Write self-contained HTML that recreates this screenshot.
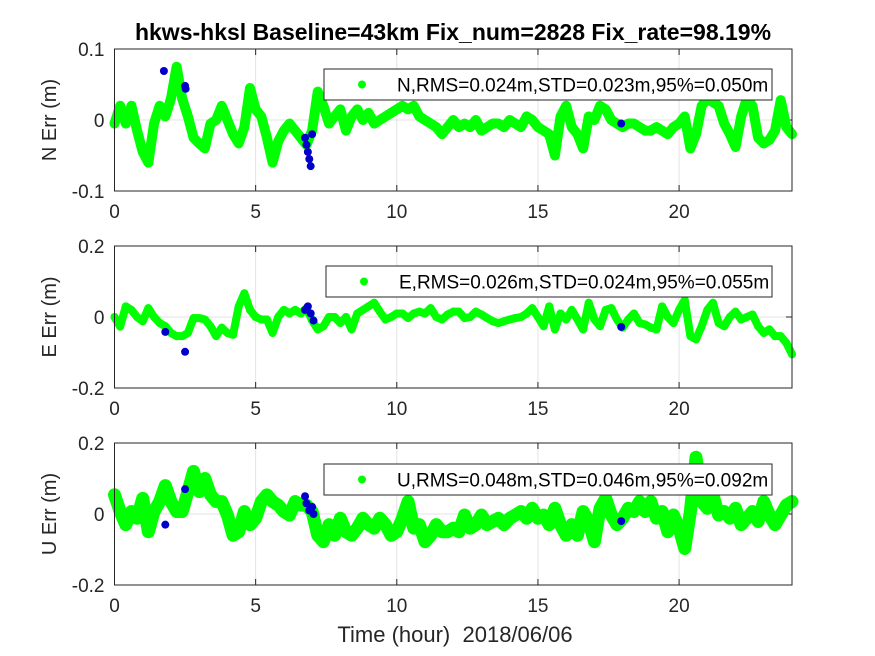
<!DOCTYPE html>
<html><head><meta charset="utf-8"><style>
body{margin:0;background:#fff}
svg{display:block;font-family:"Liberation Sans",Arial,sans-serif}
</style></head><body>
<svg id="fig" width="875" height="656" xmlns="http://www.w3.org/2000/svg">
<rect width="875" height="656" fill="#fff"/>
<text x="453" y="40" text-anchor="middle" font-size="23" font-weight="bold" fill="#000">hkws-hksl Baseline=43km Fix_num=2828 Fix_rate=98.19%</text>
<text x="455" y="642" text-anchor="middle" font-size="22" fill="#262626">Time (hour)&#160; 2018/06/06</text>
</svg>
<script>
const hourStep = 0.2;
const nVals = [-0.005,0.02,-0.005,0.02,-0.015,-0.045,-0.06,-0.005,0.02,0.005,0.03,0.075,0.03,0.005,-0.025,-0.033,-0.04,-0.005,0,0.02,0,-0.02,-0.033,-0.01,0.045,0.015,0.005,-0.025,-0.06,-0.03,-0.015,-0.005,-0.015,-0.025,-0.035,-0.015,0.04,0.02,-0.005,0.005,0.015,-0.015,0.005,0.015,0,0.01,-0.005,0,0.005,0.01,0.015,0.02,0.015,0.02,0.005,0,-0.005,-0.01,-0.02,-0.01,0,
-0.01,-0.005,-0.01,0,-0.015,-0.01,-0.005,-0.005,-0.01,0,-0.005,-0.01,0.005,0,-0.01,-0.015,-0.02,-0.05,0.005,0.02,-0.01,-0.02,-0.04,0.005,0,0.02,0.015,0,-0.005,-0.01,-0.005,-0.005,-0.01,-0.015,-0.015,-0.01,-0.015,-0.02,-0.01,-0.005,0.005,-0.04,-0.02,0.02,0.03,0.025,0.02,-0.005,-0.02,-0.038,0.005,0.03,0.02,-0.025,-0.033,-0.028,-0.015,0.028,-0.01,-0.02];
const eVals = [0,-0.027,0.03,0.02,0,-0.012,0.025,0,-0.017,-0.026,-0.045,-0.054,-0.054,-0.045,-0.003,-0.003,-0.007,-0.026,-0.054,-0.03,-0.045,-0.05,0.03,0.067,0.02,0,-0.007,-0.007,-0.045,0,0.02,0.01,0.02,0.01,0.025,-0.01,-0.035,-0.026,0,0,-0.017,0,-0.035,0.01,0.02,0.03,0.04,0.015,-0.007,0,0.01,0.01,-0.003,0.01,0.015,0.01,0.025,0,-0.007,0.007,0.015,
0.015,-0.003,0,0.015,0.007,-0.003,-0.012,-0.017,-0.012,-0.007,-0.003,0,0.01,0.025,0,-0.026,0.03,-0.035,0.01,-0.007,0.02,-0.007,-0.035,0.04,-0.007,-0.026,0.02,0.025,-0.007,-0.03,-0.007,0.01,-0.017,-0.021,-0.03,-0.035,0.03,0,-0.017,0.02,0.048,-0.054,-0.063,-0.026,0.02,0.04,-0.017,-0.026,0,0.015,-0.007,0,0.007,-0.026,-0.045,-0.035,-0.054,-0.054,-0.073,-0.105];
const uVals = [0.054,0.007,-0.03,0.007,-0.012,0.044,-0.05,0.007,0.035,0.08,0.035,0.007,0.007,0.063,0.12,0.063,0.1,0.054,0.035,0.035,-0.003,-0.06,-0.05,0.007,-0.03,-0.012,0.035,0.054,0.035,0.025,0.007,-0.003,0.035,0.025,0.025,0.007,-0.06,-0.078,-0.03,-0.06,-0.012,-0.05,-0.06,-0.04,-0.012,-0.03,-0.04,-0.012,-0.03,-0.06,-0.05,-0.012,0.035,-0.04,-0.03,-0.078,-0.06,-0.03,-0.05,-0.05,-0.04,
-0.05,-0.003,-0.04,-0.03,-0.003,-0.03,-0.021,-0.012,-0.03,-0.012,-0.003,0.007,-0.012,0.016,-0.012,-0.003,-0.03,0.016,-0.03,-0.06,-0.03,-0.06,0.007,-0.021,-0.078,0.016,0.044,-0.003,-0.03,-0.012,0.016,0.007,0.035,0.007,0.035,-0.012,0.007,-0.05,-0.003,-0.04,-0.097,0.007,0.16,0.035,0.016,0.054,-0.003,0.007,-0.012,0.016,-0.03,-0.012,0.007,-0.021,0.035,-0.003,-0.03,-0.003,0.025,0.035];
const nBlueHours = [1.75,2.5,2.52,6.75,6.8,6.85,6.9,6.95,7.0,17.95];
const nBlueVals = [0.069,0.048,0.044,-0.025,-0.035,-0.045,-0.055,-0.065,-0.02,-0.005];
const eBlueHours = [1.8,2.5,6.75,6.85,6.95,7.05,17.95];
const eBlueVals = [-0.042,-0.098,0.02,0.03,0.01,-0.01,-0.028];
const uBlueHours = [1.8,2.5,6.75,6.8,6.9,7.0,7.05,17.95];
const uBlueVals = [-0.03,0.07,0.05,0.03,0.01,0.02,0.0,-0.02];
const xTicks = [0,5,10,15,20];
const nTicks = [0.1,0,-0.1], eTicks = [0.2,0,-0.2], uTicks = [0.2,0,-0.2];
const nTickLabels = ["0.1","0","-0.1"], eTickLabels = ["0.2","0","-0.2"], uTickLabels = ["0.2","0","-0.2"];
const legendTexts = ["N,RMS=0.024m,STD=0.023m,95%=0.050m","E,RMS=0.026m,STD=0.024m,95%=0.055m","U,RMS=0.048m,STD=0.046m,95%=0.092m"];

const NS="http://www.w3.org/2000/svg";
const svg=document.getElementById('fig');
const X0=114.5,X1=792,XMAX=24;
const xs=h=>X0+(h/XMAX)*(X1-X0);
function mk(tag,attrs,parent){const e=document.createElementNS(NS,tag);for(const k in attrs)e.setAttribute(k,attrs[k]);(parent||svg).appendChild(e);return e;}

const panels=[
 {key:'n',top:49,bot:191,lim:0.1,vals:nVals,bh:nBlueHours,bv:nBlueVals,ticks:nTicks,tl:nTickLabels,label:'N Err (m)',leg:[324,69,772,100],lw:10},
 {key:'e',top:246,bot:388,lim:0.2,vals:eVals,bh:eBlueHours,bv:eBlueVals,ticks:eTicks,tl:eTickLabels,label:'E Err (m)',leg:[326,266,772,297],lw:8},
 {key:'u',top:443,bot:585,lim:0.2,vals:uVals,bh:uBlueHours,bv:uBlueVals,ticks:uTicks,tl:uTickLabels,label:'U Err (m)',leg:[324,464,772,495],lw:13}
];
panels.forEach((p,pi)=>{
 const ys=v=>p.top+(p.lim-v)/(2*p.lim)*(p.bot-p.top);
 const g=mk('g',{});
 
 
 mk('rect',{x:X0,y:p.top,width:X1-X0,height:p.bot-p.top,fill:'#fff'},g);
 xTicks.forEach(t=>{
  const x=xs(t);
  const gl=mk('line',{x1:x,x2:x,y1:p.top,y2:p.bot,stroke:'#e3e3e3','stroke-width':1},g);
  
  
  const tl=mk('text',{x:x,y:p.bot+27,'text-anchor':'middle','font-size':19,fill:'#262626'},g);
  
  
  tl.textContent=t;
  mk('line',{x1:x,x2:x,y1:p.bot,y2:p.bot-6,stroke:'#262626'},g);
  mk('line',{x1:x,x2:x,y1:p.top,y2:p.top+6,stroke:'#262626'},g);
 });
 p.ticks.forEach((t,i)=>{
  const y=ys(t);
  const gl=mk('line',{x1:X0,x2:X1,y1:y,y2:y,stroke:'#e3e3e3'},g);
  
  
  mk('line',{x1:X0,x2:X0+6,y1:y,y2:y,stroke:'#262626'},g);
  mk('line',{x1:X1,x2:X1-6,y1:y,y2:y,stroke:'#262626'},g);
  const tl=mk('text',{x:X0-10,y:y+7,'text-anchor':'end','font-size':19,fill:'#262626'},g);
  
  
  tl.textContent=p.tl[i];
 });
 const yl=mk('text',{x:0,y:0,'text-anchor':'middle','font-size':20,fill:'#262626',transform:`translate(56,${(p.top+p.bot)/2}) rotate(-90)`},g);
 
 
 yl.textContent=p.label;
 const pts=p.vals.map((v,i)=>[xs(Math.min(i*hourStep,XMAX)),ys(v)]);
 const line=mk('polyline',{points:pts.map(q=>q.join(',')).join(' '),fill:'none',stroke:'#00ff00','stroke-width':p.lw,'stroke-linejoin':'round','stroke-linecap':'round'},g);
 
 
 pts.forEach(q=>{
  const c=mk('circle',{cx:q[0],cy:q[1],r:4,fill:'#00ff00'},g);
  
  
 });
 p.bh.forEach((h,i)=>{
  const c=mk('circle',{cx:xs(h),cy:ys(p.bv[i]),r:4,fill:'#0000c8'},g);
  
  
 });
 mk('rect',{x:X0,y:p.top,width:X1-X0,height:p.bot-p.top,fill:'none',stroke:'#262626','stroke-width':1},g);
 const L=p.leg;
 const lg=mk('g',{},g);
 
 
 mk('rect',{x:L[0],y:L[1],width:L[2]-L[0],height:L[3]-L[1],fill:'#fff',stroke:'#262626'},lg);
 mk('circle',{cx:L[0]+38,cy:(L[1]+L[3])/2,r:4,fill:'#00ff00'},lg);
 const lt=mk('text',{x:L[0]+73,y:(L[1]+L[3])/2+7,'font-size':19,fill:'#000'},lg);
 
 
 lt.textContent=legendTexts[pi];
});
</script>
</body></html>
